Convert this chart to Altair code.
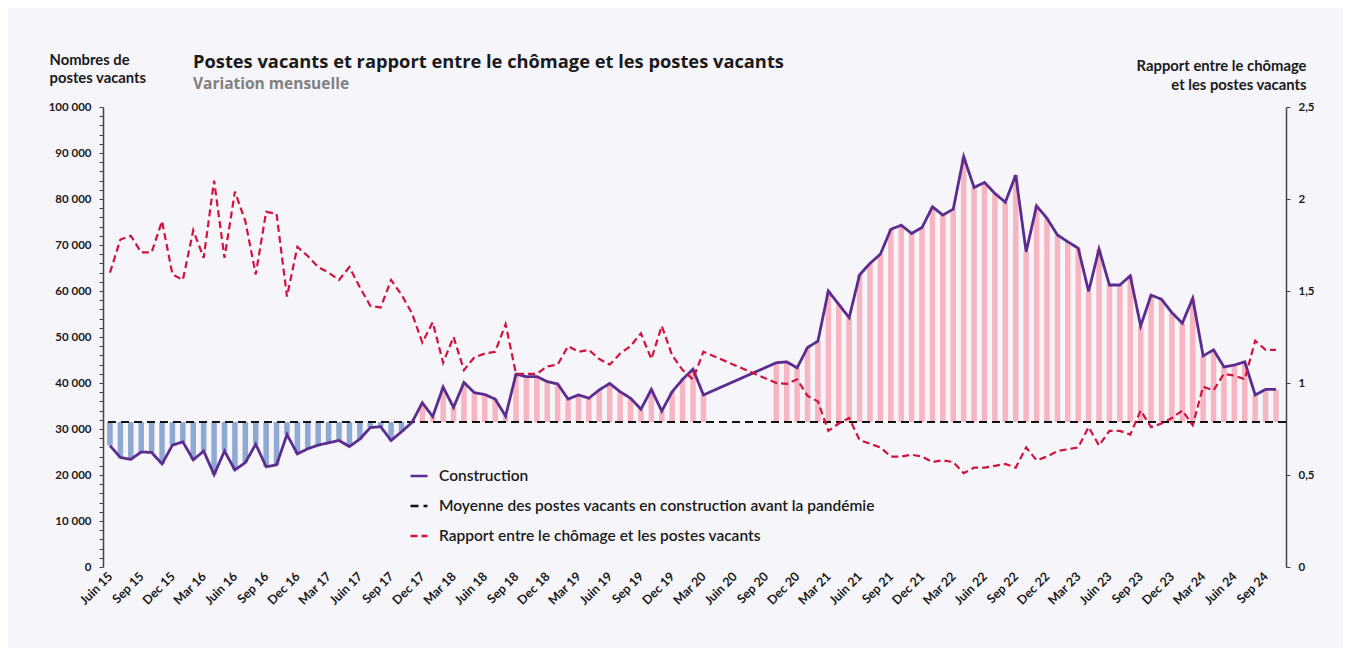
import altair as alt
import pandas as pd

# ---- data (monthly, Juin 2015 -> Oct 2024; None = no data) ----
construction = [
    26400, 23800, 23400, 25000, 24900, 22400, 26500, 27200, 23300, 25200,
    20100, 25200, 21100, 22700, 26700, 21800, 22200, 28800, 24600, 25700,
    26500, 27000, 27500, 26200, 27800, 30300, 30500, 27500, 29400, 31400,
    35700, 32700, 39100, 34700, 40100, 37900, 37500, 36500, 32800, 41900,
    41400, 41400, 40300, 39800, 36500, 37400, 36700, 38500, 39900, 38100,
    36700, 34300, 38600, 33900, 38100, 40800, 43000, 37400, None, None,
    None, None, None, None, 44400, 44600, 43300, 47700, 49100, 60000,
    57100, 54200, 63500, 66000, 68000, 73400, 74300, 72500, 73800, 78300,
    76500, 77800, 89200, 82500, 83600, 81200, 79300, 85200, 68500, 78500,
    75800, 72200, 70700, 69300, 59900, 69100, 61300, 61300, 63300, 52400,
    59100, 58200, 55300, 53000, 58400, 45900, 47200, 43500, 43900, 44600,
    37400, 38600, 38600,
]
ratio = [
    1.60, 1.78, 1.80, 1.71, 1.71, 1.88, 1.59, 1.56, 1.83, 1.68,
    2.10, 1.68, 2.04, 1.88, 1.59, 1.93, 1.92, 1.47, 1.74, 1.69,
    1.63, 1.60, 1.56, 1.63, 1.52, 1.42, 1.41, 1.56, 1.48, 1.38,
    1.22, 1.33, 1.11, 1.25, 1.07, 1.14, 1.16, 1.17, 1.32, 1.05,
    1.05, 1.05, 1.09, 1.10, 1.20, 1.17, 1.18, 1.13, 1.10, 1.16,
    1.20, 1.27, 1.13, 1.31, 1.15, 1.07, 1.02, 1.17, None, None,
    None, None, None, None, 1.00, 0.995, 1.02, 0.93, 0.90, 0.74,
    0.78, 0.81, 0.69, 0.67, 0.65, 0.60, 0.60, 0.61, 0.60, 0.57,
    0.58, 0.57, 0.51, 0.54, 0.54, 0.55, 0.56, 0.54, 0.65, 0.58,
    0.60, 0.63, 0.64, 0.65, 0.76, 0.66, 0.74, 0.74, 0.72, 0.85,
    0.76, 0.78, 0.81, 0.85, 0.77, 0.98, 0.96, 1.05, 1.04, 1.02,
    1.23, 1.18, 1.18,
]
tick_labels = [
    "Juin 15", "Sep 15", "Dec 15", "Mar 16", "Juin 16", "Sep 16", "Dec 16",
    "Mar 17", "Juin 17", "Sep 17", "Dec 17", "Mar 18", "Juin 18", "Sep 18",
    "Dec 18", "Mar 19", "Juin 19", "Sep 19", "Dec 19", "Mar 20", "Juin 20",
    "Sep 20", "Dec 20", "Mar 21", "Juin 21", "Sep 21", "Dec 21", "Mar 22",
    "Juin 22", "Sep 22", "Dec 22", "Mar 23", "Juin 23", "Sep 23", "Dec 23",
    "Mar 24", "Juin 24", "Sep 24",
]
pre_pandemic_mean = 31500
series_names = [
    "Construction",
    "Moyenne des postes vacants en construction avant la pandémie",
    "Rapport entre le chômage et les postes vacants",
]
title_text = "Postes vacants et rapport entre le chômage et les postes vacants"
subtitle_text = "Variation mensuelle"
left_title = ["Nombres de", "postes vacants"]
right_title = ["Rapport entre le chômage", "et les postes vacants"]

# ---- styling ----
FONT = "Lato"
TITLE_FONT = "Open Sans"
PURPLE = "#5B2C8F"
RED = "#D3123C"
BLUE = "#8EA9D2"
PINK = "#F6B5C1"
BG = "#F5F5FA"
TXT = "#1A1A1A"

n = len(construction)
df = pd.DataFrame({"i": list(range(n)), "vac": construction, "ratio": ratio})
df["mean"] = pre_pandemic_mean
vac_df = df.dropna(subset=["vac"]).assign(series=series_names[0])
ratio_df = df.dropna(subset=["ratio"]).assign(series=series_names[2])
mean_df = pd.DataFrame({"mean": [pre_pandemic_mean], "series": [series_names[1]]})

W, H = 1183, 460

label_js = "[" + ",".join("'" + s + "'" for s in tick_labels) + "]"
x_enc = alt.X(
    "i:Q",
    scale=alt.Scale(domain=[-0.19, 112.48], nice=False, zero=False),
    axis=alt.Axis(
        values=list(range(0, 3 * len(tick_labels), 3)),
        labelExpr=label_js + "[floor(datum.value / 3)]",
        labelAngle=-45, labelAlign="right", labelBaseline="middle",
        domain=False, ticks=False, grid=False, title=None,
        labelFont=FONT, labelFontWeight="bold", labelFontSize=12.5,
        labelColor=TXT, labelPadding=7, labelOverlap=False, labelFlush=False,
    ),
)

left_scale = alt.Scale(domain=[0, 100000], nice=False)
left_axis = alt.Axis(
    values=list(range(0, 100001, 2000)),
    labelExpr="datum.value % 10000 == 0 ? replace(format(datum.value, ','), ',', ' ') : ''",
    grid=False, domainColor="#444444", domainWidth=1.5, tickColor="#444444",
    tickSize=4, tickWidth=1, labelPadding=8, labelFont=FONT,
    labelFontWeight="bold", labelFontSize=11.5, labelColor=TXT,
    title=left_title, titleAngle=0, titleAlign="left", titleBaseline="alphabetic",
    titleX=-54, titleY=-43, titleFont=FONT, titleFontSize=14.8,
    titleFontWeight="bold", titleColor=TXT, titleLineHeight=18,
)
right_axis = alt.Axis(
    orient="right", values=[0, 0.5, 1, 1.5, 2, 2.5],
    labelExpr="replace(format(datum.value, ''), '.', ',')",
    grid=False, domainColor="#444444", domainWidth=1.5, tickColor="#444444",
    tickSize=4, tickWidth=1, labelPadding=8, labelFont=FONT,
    labelFontWeight="bold", labelFontSize=11.5, labelColor=TXT,
    title=right_title, titleAngle=0, titleAlign="right", titleBaseline="alphabetic",
    titleX=20, titleY=-37, titleFont=FONT, titleFontSize=14.8,
    titleFontWeight="bold", titleColor=TXT, titleLineHeight=19,
)

legend = alt.Legend(
    title=None, orient="none", legendX=306, legendY=359, direction="vertical",
    symbolType="stroke", symbolSize=289, symbolStrokeWidth=2.5,
    labelFont=FONT, labelFontSize=15.5, labelFontWeight=600, labelColor=TXT,
    labelOffset=10, labelLimit=800, rowPadding=11, padding=0,
)
color_enc = alt.Color(
    "series:N",
    scale=alt.Scale(domain=series_names, range=[PURPLE, "#111111", RED]),
    legend=legend,
)
dash_enc = alt.StrokeDash(
    "series:N",
    scale=alt.Scale(domain=series_names, range=[[1, 0], [8, 5], [7, 4]]),
    legend=legend,
)

bars = alt.Chart(vac_df).mark_bar(size=5.5).encode(
    x=x_enc,
    y=alt.Y("vac:Q", scale=left_scale, axis=left_axis),
    y2="mean:Q",
    color=alt.condition(f"datum.vac >= {pre_pandemic_mean}", alt.value(PINK), alt.value(BLUE)),
)
mean_rule = alt.Chart(mean_df).mark_rule(strokeWidth=2).encode(
    y=alt.Y("mean:Q", scale=left_scale, axis=left_axis),
    color=color_enc, strokeDash=dash_enc,
)
vac_line = alt.Chart(vac_df).mark_line(strokeWidth=2.8).encode(
    x=x_enc,
    y=alt.Y("vac:Q", scale=left_scale, axis=left_axis),
    color=color_enc, strokeDash=dash_enc,
)
ratio_line = alt.Chart(ratio_df).mark_line(strokeWidth=2.2).encode(
    x=x_enc,
    y=alt.Y("ratio:Q", scale=alt.Scale(domain=[0, 2.5], nice=False), axis=right_axis),
    color=color_enc, strokeDash=dash_enc,
)

title_mark = alt.Chart(pd.DataFrame({"t": [title_text]})).mark_text(
    font=TITLE_FONT, fontSize=18.3, fontWeight="bold", color=TXT, align="left", baseline="alphabetic"
).encode(text="t:N", x=alt.value(90), y=alt.value(-39))
subtitle_mark = alt.Chart(pd.DataFrame({"t": [subtitle_text]})).mark_text(
    font=TITLE_FONT, fontSize=15.5, fontWeight="bold", color="#808080", align="left", baseline="alphabetic"
).encode(text="t:N", x=alt.value(90), y=alt.value(-18))

left_layer = alt.layer(bars, mean_rule, vac_line)
chart = (
    alt.layer(left_layer, ratio_line, title_mark, subtitle_mark)
    .resolve_scale(y="independent")
    .properties(
        width=W, height=H, background=BG,
        autosize=alt.AutoSizeParams(type="none"),
        padding={"left": 95, "top": 99, "right": 57, "bottom": 81},
    )
    .configure_view(stroke=None)
)

chart.save("out.html", embed_options={"renderer": "svg", "actions": False})
